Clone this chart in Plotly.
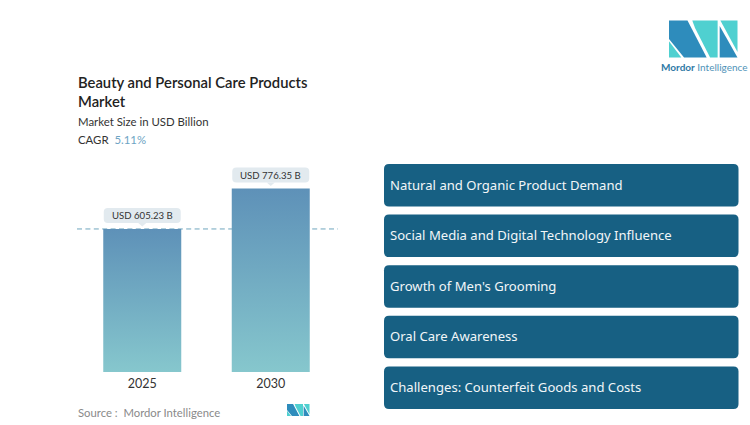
import plotly.graph_objects as go

# values
years = ["2025", "2030"]
market_size = [605.23, 776.35]
bar_labels = ["USD 605.23 B", "USD 776.35 B"]
drivers = [
    "Natural and Organic Product Demand",
    "Social Media and Digital Technology Influence",
    "Growth of Men's Grooming",
    "Oral Care Awareness",
    "Challenges: Counterfeit Goods and Costs",
]

W, H = 750, 425
L, R, T, B = 78, 415, 160, 53
BAR_HALF = 0.3035
FONT = "Lato"
PANEL_FONT = "Noto Sans"


# page pixels -> paper coords, so the side furniture can be placed by eye
def px(x):
    return (x - L) / (W - L - R)


def py(y):
    return 1 - (y - T) / (H - T - B)


def round_rect(x0, y0, x1, y1, r, fx=float, fy=float):
    pts = [("M", x0 + r, y0), ("L", x1 - r, y0), ("Q", x1, y0), ("", x1, y0 + r),
           ("L", x1, y1 - r), ("Q", x1, y1), ("", x1 - r, y1), ("L", x0 + r, y1),
           ("Q", x0, y1), ("", x0, y1 - r), ("L", x0, y0 + r), ("Q", x0, y0), ("", x0 + r, y0)]
    return " ".join(f"{c}{fx(a)},{fy(b)}" for c, a, b in pts) + " Z"


# logo pieces on a 0-1 box, y down
LOGO_DARK = [
    [(0, 0), (0.27, 0), (0.55, 1), (0.22, 1), (0, 0.5)],
    [(0.74, 0.15), (1, 1), (0.74, 1)],
]
LOGO_LIGHT = [
    [(0, 0.56), (0, 1), (0.18, 1)],
    [(0.34, 0), (0.71, 0), (0.71, 1), (0.6, 1), (0.38, 0.2)],
    [(0.75, 0), (1, 0), (1, 0.85)],
]


def logo_shapes(x, y, w, h):
    out = []
    for pieces, col in ((LOGO_DARK, "#2e8cbc"), (LOGO_LIGHT, "#4fd0d0")):
        for pts in pieces:
            path = "M" + " L".join(f"{px(x + a * w)},{py(y + b * h)}" for a, b in pts) + " Z"
            out.append(dict(type="path", xref="paper", yref="paper", path=path,
                            fillcolor=col, line_width=0, layer="above"))
    return out


fig = go.Figure()

for i, (year, val) in enumerate(zip(years, market_size)):
    fig.add_trace(go.Scatter(
        x=[i - BAR_HALF, i - BAR_HALF, i + BAR_HALF, i + BAR_HALF, i - BAR_HALF],
        y=[0, val, val, 0, 0],
        mode="lines", line_width=0, fill="toself", name=year,
        fillgradient=dict(type="vertical",
                          colorscale=[[0, "#86c7cd"], [1, "#5e91b8"]]),
        hoverinfo="text", text=f"{year}: USD {val} B", showlegend=False,
    ))

shapes = [
    dict(type="line", xref="paper", yref="y", x0=px(77), x1=px(338),
         y0=market_size[0], y1=market_size[0], layer="below",
         line=dict(color="#6fa5bd", width=1, dash="5px,3.4px")),
]

annotations = []
for i, (val, lab) in enumerate(zip(market_size, bar_labels)):
    # callout floats over the bar top, pointer nearly touches it
    shapes.append(dict(type="path", xsizemode="pixel", ysizemode="pixel",
                       xref="x", yref="y", xanchor=i, yanchor=val,
                       path=round_rect(-38.5, 6, 38.5, 21, 4),
                       fillcolor="#e2eaef", line_width=0))
    shapes.append(dict(type="path", xsizemode="pixel", ysizemode="pixel",
                       xref="x", yref="y", xanchor=i, yanchor=val,
                       path="M-4,6 L0,2.5 L4,6 Z", fillcolor="#e2eaef", line_width=0))
    annotations.append(dict(x=i, y=val, xref="x", yref="y", text=lab, showarrow=False,
                            yshift=13.5, xanchor="center", yanchor="middle",
                            font=dict(family=FONT, size=9.6, color="#333333")))

# right hand panels
for i, txt in enumerate(drivers):
    top = 164 + i * 50.6
    shapes.append(dict(type="path", xref="paper", yref="paper",
                       path=round_rect(384, top, 738.5, top + 42.5, 5, px, py),
                       fillcolor="#176083", line_width=0))
    annotations.append(dict(xref="paper", yref="paper", x=px(388), y=py(top + 20.5),
                            text=txt, showarrow=False, xanchor="left", yanchor="middle",
                            font=dict(family=PANEL_FONT, size=13.1, color="#f2f6f8")))


def note(x, y, text, size, color="#333333", family=FONT):
    annotations.append(dict(xref="paper", yref="paper", x=px(x), y=py(y), text=text,
                            showarrow=False, xanchor="left", yanchor="middle",
                            font=dict(family=family, size=size, color=color)))


note(75.5, 121.5, "Market Size in USD Billion", 11.4)
note(75.5, 139, 'CAGR  <span style="color:#6ea4c4">5.11%</span>', 11.4)
note(76, 412, "Source :  Mordor Intelligence", 11.3, color="#8a8a8a")
note(659, 66.5, '<b style="color:#2f7aa6">Mordor</b> <span style="color:#4f93b8">Intelligence</span>',
     10)

shapes += logo_shapes(669, 20.5, 68.5, 37)
shapes += logo_shapes(287, 404, 22.5, 12)

fig.update_layout(
    width=W, height=H,
    margin=dict(l=L, r=R, t=T, b=B, pad=0),
    paper_bgcolor="white", plot_bgcolor="white",
    showlegend=False,
    title=dict(text="Beauty and Personal Care Products<br>Market",
               font=dict(family=FONT, size=14.8, color="#222222", weight=600),
               x=78 / W, xanchor="left", y=1 - 88 / H, yanchor="top"),
    xaxis=dict(range=[-0.5, 1.5], tickvals=[0, 1], ticktext=years, showgrid=False,
               zeroline=False, showline=False, ticks="", fixedrange=True, ticklabelstandoff=2,
               tickfont=dict(family=FONT, size=12.5, color="#333333")),
    yaxis=dict(range=[0, 897], visible=False, showgrid=False, zeroline=False,
               fixedrange=True),
    shapes=shapes, annotations=annotations,
)

fig.write_html("out.html", config={"displayModeBar": False},
               post_script="document.body.style.margin='0';")
